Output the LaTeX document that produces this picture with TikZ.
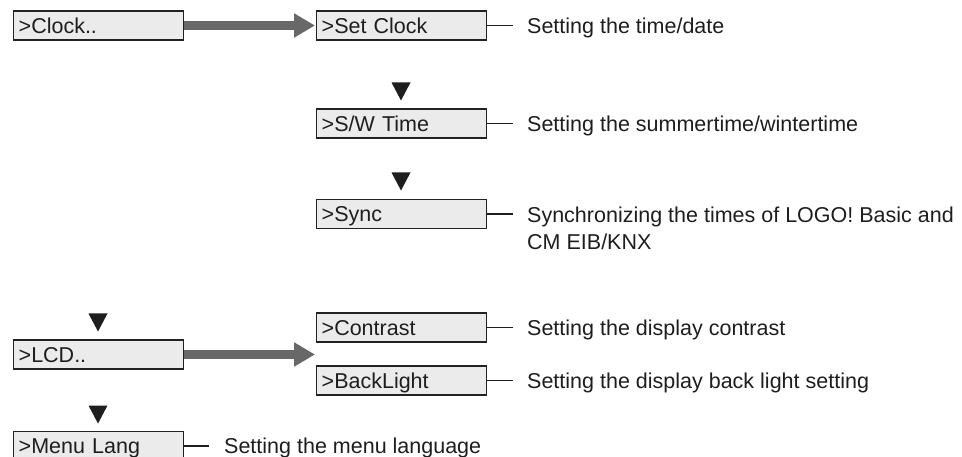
\documentclass[tikz,border=0pt]{standalone}
\usepackage{fontspec}
\setmainfont{Liberation Sans}
\usetikzlibrary{arrows.meta}
\definecolor{boxfill}{HTML}{EBEBEB}
\definecolor{boxline}{HTML}{222222}
\definecolor{arrowgray}{HTML}{686868}
\definecolor{txt}{HTML}{1E1E1E}
\definecolor{trifill}{HTML}{1E1E1E}
\tikzset{
  menubox/.style={draw=boxline, fill=boxfill, line width=1.4pt, rectangle,
    text width=160pt, align=left, inner xsep=5pt, inner ysep=0pt,
    minimum height=29pt, text height=15.4pt, text depth=0pt,
    font=\fontsize{21.5}{26}\selectfont, text=txt},
  desc/.style={inner sep=0pt, anchor=west, text height=15.4pt, text depth=0pt,
    font=\fontsize{21.5}{26}\selectfont, text=txt},
  tick/.style={draw=txt, line width=1.7pt},
  bigarrow/.style={draw=arrowgray, line width=9.5pt,
    -{Triangle[length=21pt,width=23pt]}},
  tri/.style={fill=trifill}
}
\begin{document}
\begin{tikzpicture}[x=1pt,y=-1pt]
\useasboundingbox (0,0) rectangle (962,457);
\clip (0,0) rectangle (962,457);
\fill[white] (0,0) rectangle (962,457);

% boxes
\node[menubox, anchor=west] (clock) at (13,25.5) {>Clock..};
\node[menubox, anchor=west] (setclock) at (316,25.5) {>Set Clock};
\node[menubox, anchor=west] (sw) at (316,123.5) {>S/W Time};
\node[menubox, anchor=west] (sync) at (316,214) {>Sync};
\node[menubox, anchor=west] (lcd) at (13,354.5) {>LCD..};
\node[menubox, anchor=west] (contrast) at (316,327.5) {>Contrast};
\node[menubox, anchor=west] (backlight) at (316,380.5) {>BackLight};
\node[menubox, anchor=west] (menulang) at (13,446) {>Menu Lang};

% descriptions
\node[desc] (d1) at (527,25.5) {Setting the time/date};
\node[desc] (d2) at (527,123.5) {Setting the summertime/wintertime};
\node[inner sep=0pt, anchor=north west, align=left,
  font=\fontsize{21.5}{27}\selectfont, text=txt] (d3) at (527,206.3)
  {Synchronizing the times of LOGO! Basic and\\CM EIB/KNX};
\coordinate (d3w) at (527,214);
\node[desc] (d4) at (527,327.5) {Setting the display contrast};
\node[desc] (d5) at (527,380.5) {Setting the display back light setting};
\node[desc] (d6) at (224,446) {Setting the menu language};

% ticks
\draw[tick] (setclock.east) -- ([xshift=-14pt]d1.west);
\draw[tick] (sw.east) -- ([xshift=-14pt]d2.west);
\draw[tick] (sync.east) -- ([xshift=-14pt]d3w);
\draw[tick] (contrast.east) -- ([xshift=-14pt]d4.west);
\draw[tick] (backlight.east) -- ([xshift=-14pt]d5.west);
\draw[tick] (menulang.east) -- ([xshift=-15pt]d6.west);

% big arrows
\coordinate (lcdtip) at (315,354.5);
\draw[bigarrow] (clock.east) -- ([xshift=-1pt]setclock.west);
\draw[bigarrow] (lcd.east) -- (lcdtip);

% triangles
\fill[tri] (391.5,82.5) -- (410.5,82.5) -- (401,100.5) -- cycle;
\fill[tri] (391.5,172.5) -- (410.5,172.5) -- (401,190.5) -- cycle;
\fill[tri] (88.5,313.5) -- (107.5,313.5) -- (98,331.5) -- cycle;
\fill[tri] (88.5,405.5) -- (107.5,405.5) -- (98,423.5) -- cycle;
\end{tikzpicture}
\end{document}
